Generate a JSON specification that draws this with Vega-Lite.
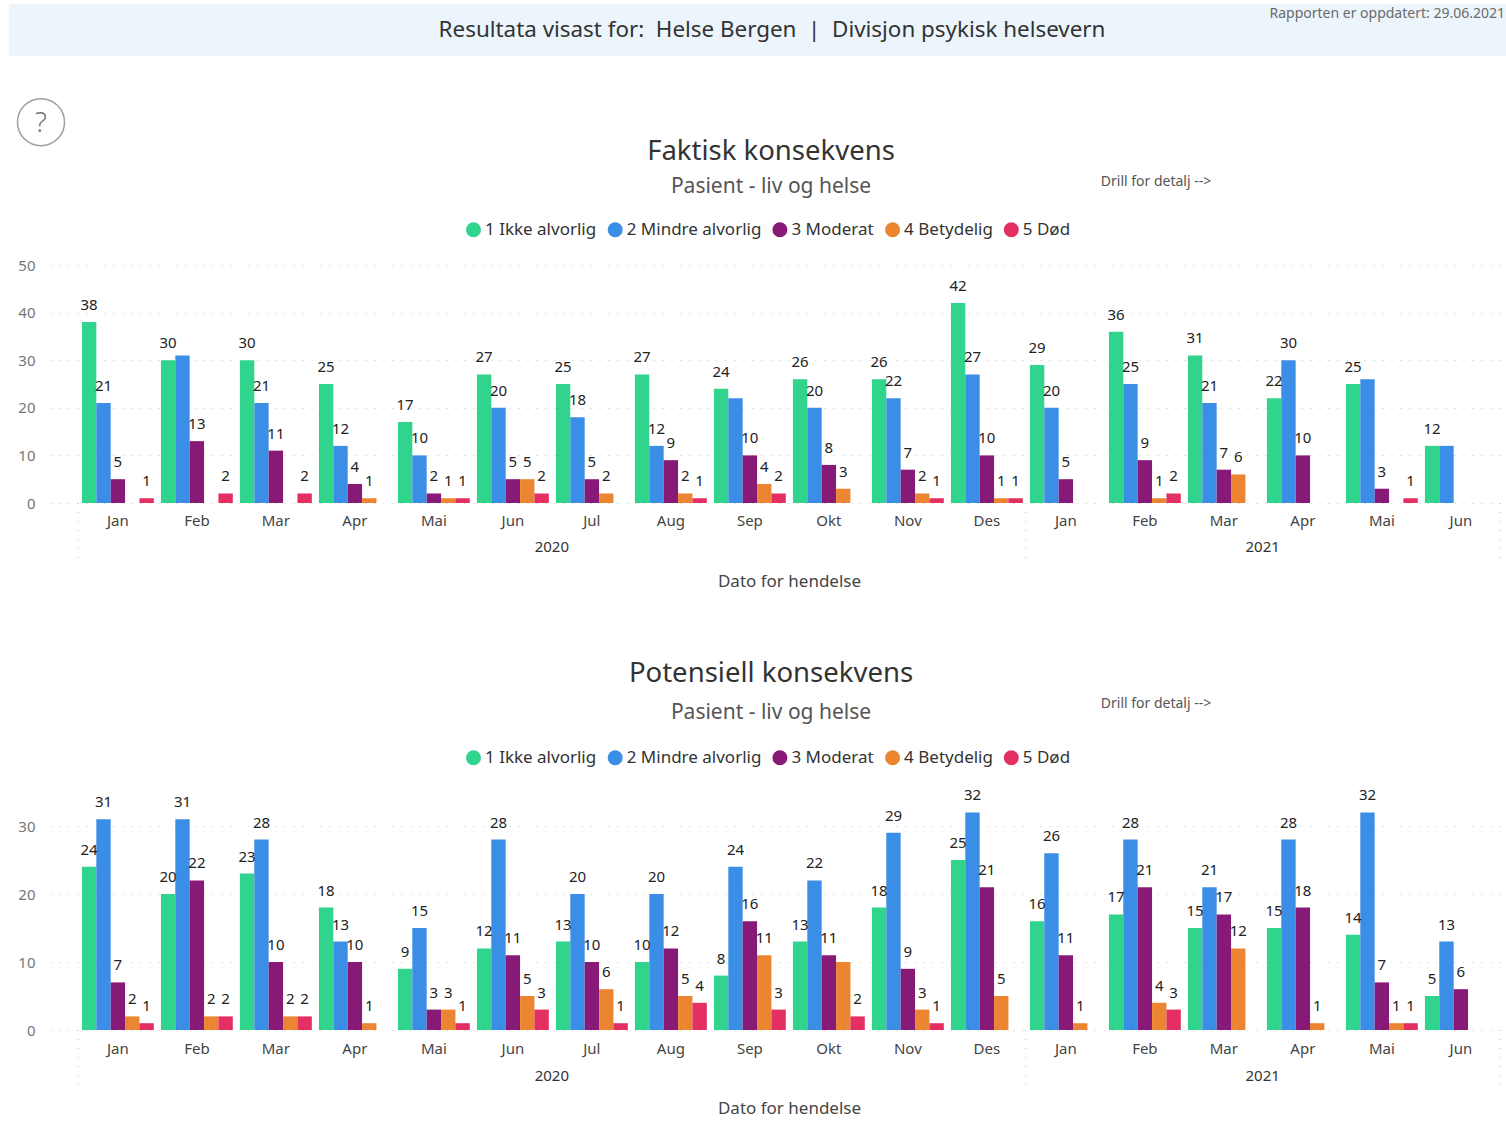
{"$schema":"https://vega.github.io/schema/vega-lite/v6.json","background":"white","padding":{"left":8,"top":4,"right":0,"bottom":10},"spacing":39,"align":"none","config":{"font":"Noto Sans","view":{"stroke":null},"text":{"font":"Noto Sans"}},"resolve":{"scale":{"color":"independent"},"legend":{"color":"independent"}},"vconcat":[
{"width":1456,"height":52,"data":{"values":[{"a":1}]},"layer":[
{"mark":{"type":"rect","color":"#ecf4fc"},"encoding":{"x":{"datum":-0.02816,"type":"quantitative","scale":{"domain":[0,1]},"axis":null},"x2":{"datum":1},"y":{"datum":0,"type":"quantitative","scale":{"domain":[0,1]},"axis":null},"y2":{"datum":1}}},
{"mark":{"type":"text","fontSize":22.4,"color":"#333333","align":"center","baseline":"middle"},"encoding":{"x":{"datum":0.4959,"type":"quantitative","scale":{"domain":[0,1]},"axis":null},"y":{"datum":0.5,"type":"quantitative","scale":{"domain":[0,1]},"axis":null},"text":{"value":"Resultata visast for:\u00a0\u00a0Helse Bergen\u00a0\u00a0|\u00a0\u00a0Divisjon psykisk helsevern"}}},
{"mark":{"type":"text","fontSize":14,"color":"#6b6b6b","align":"right","baseline":"middle"},"encoding":{"x":{"datum":0.9993,"type":"quantitative","scale":{"domain":[0,1]},"axis":null},"y":{"datum":0.81,"type":"quantitative","scale":{"domain":[0,1]},"axis":null},"text":{"value":"Rapporten er oppdatert: 29.06.2021"}}}
]},
{"spacing":71,"align":"none","resolve":{"scale":{"color":"independent"},"legend":{"color":"independent"}},"vconcat":[
{"width":1452,"height":238,"title":{"text":"Faktisk konsekvens","subtitle":"Pasient - liv og helse","fontSize":27.5,"fontWeight":"normal","color":"#333333","subtitleFontSize":21,"subtitleColor":"#555555","subtitlePadding":10,"anchor":"middle","dx":-5,"offset":-101},
"layer":[
{"data":{"values":[
{"p":"Jan 2020","level":"1 Ikke alvorlig","v":38,"l":38},{"p":"Jan 2020","level":"2 Mindre alvorlig","v":21,"l":21},{"p":"Jan 2020","level":"3 Moderat","v":5,"l":5},{"p":"Jan 2020","level":"5 Død","v":1,"l":1},
{"p":"Feb 2020","level":"1 Ikke alvorlig","v":30,"l":30},{"p":"Feb 2020","level":"2 Mindre alvorlig","v":31},{"p":"Feb 2020","level":"3 Moderat","v":13,"l":13},{"p":"Feb 2020","level":"5 Død","v":2,"l":2},
{"p":"Mar 2020","level":"1 Ikke alvorlig","v":30,"l":30},{"p":"Mar 2020","level":"2 Mindre alvorlig","v":21,"l":21},{"p":"Mar 2020","level":"3 Moderat","v":11,"l":11},{"p":"Mar 2020","level":"5 Død","v":2,"l":2},
{"p":"Apr 2020","level":"1 Ikke alvorlig","v":25,"l":25},{"p":"Apr 2020","level":"2 Mindre alvorlig","v":12,"l":12},{"p":"Apr 2020","level":"3 Moderat","v":4,"l":4},{"p":"Apr 2020","level":"4 Betydelig","v":1,"l":1},
{"p":"Mai 2020","level":"1 Ikke alvorlig","v":17,"l":17},{"p":"Mai 2020","level":"2 Mindre alvorlig","v":10,"l":10},{"p":"Mai 2020","level":"3 Moderat","v":2,"l":2},{"p":"Mai 2020","level":"4 Betydelig","v":1,"l":1},{"p":"Mai 2020","level":"5 Død","v":1,"l":1},
{"p":"Jun 2020","level":"1 Ikke alvorlig","v":27,"l":27},{"p":"Jun 2020","level":"2 Mindre alvorlig","v":20,"l":20},{"p":"Jun 2020","level":"3 Moderat","v":5,"l":5},{"p":"Jun 2020","level":"4 Betydelig","v":5,"l":5},{"p":"Jun 2020","level":"5 Død","v":2,"l":2},
{"p":"Jul 2020","level":"1 Ikke alvorlig","v":25,"l":25},{"p":"Jul 2020","level":"2 Mindre alvorlig","v":18,"l":18},{"p":"Jul 2020","level":"3 Moderat","v":5,"l":5},{"p":"Jul 2020","level":"4 Betydelig","v":2,"l":2},
{"p":"Aug 2020","level":"1 Ikke alvorlig","v":27,"l":27},{"p":"Aug 2020","level":"2 Mindre alvorlig","v":12,"l":12},{"p":"Aug 2020","level":"3 Moderat","v":9,"l":9},{"p":"Aug 2020","level":"4 Betydelig","v":2,"l":2},{"p":"Aug 2020","level":"5 Død","v":1,"l":1},
{"p":"Sep 2020","level":"1 Ikke alvorlig","v":24,"l":24},{"p":"Sep 2020","level":"2 Mindre alvorlig","v":22},{"p":"Sep 2020","level":"3 Moderat","v":10,"l":10},{"p":"Sep 2020","level":"4 Betydelig","v":4,"l":4},{"p":"Sep 2020","level":"5 Død","v":2,"l":2},
{"p":"Okt 2020","level":"1 Ikke alvorlig","v":26,"l":26},{"p":"Okt 2020","level":"2 Mindre alvorlig","v":20,"l":20},{"p":"Okt 2020","level":"3 Moderat","v":8,"l":8},{"p":"Okt 2020","level":"4 Betydelig","v":3,"l":3},
{"p":"Nov 2020","level":"1 Ikke alvorlig","v":26,"l":26},{"p":"Nov 2020","level":"2 Mindre alvorlig","v":22,"l":22},{"p":"Nov 2020","level":"3 Moderat","v":7,"l":7},{"p":"Nov 2020","level":"4 Betydelig","v":2,"l":2},{"p":"Nov 2020","level":"5 Død","v":1,"l":1},
{"p":"Des 2020","level":"1 Ikke alvorlig","v":42,"l":42},{"p":"Des 2020","level":"2 Mindre alvorlig","v":27,"l":27},{"p":"Des 2020","level":"3 Moderat","v":10,"l":10},{"p":"Des 2020","level":"4 Betydelig","v":1,"l":1},{"p":"Des 2020","level":"5 Død","v":1,"l":1},
{"p":"Jan 2021","level":"1 Ikke alvorlig","v":29,"l":29},{"p":"Jan 2021","level":"2 Mindre alvorlig","v":20,"l":20},{"p":"Jan 2021","level":"3 Moderat","v":5,"l":5},
{"p":"Feb 2021","level":"1 Ikke alvorlig","v":36,"l":36},{"p":"Feb 2021","level":"2 Mindre alvorlig","v":25,"l":25},{"p":"Feb 2021","level":"3 Moderat","v":9,"l":9},{"p":"Feb 2021","level":"4 Betydelig","v":1,"l":1},{"p":"Feb 2021","level":"5 Død","v":2,"l":2},
{"p":"Mar 2021","level":"1 Ikke alvorlig","v":31,"l":31},{"p":"Mar 2021","level":"2 Mindre alvorlig","v":21,"l":21},{"p":"Mar 2021","level":"3 Moderat","v":7,"l":7},{"p":"Mar 2021","level":"4 Betydelig","v":6,"l":6},
{"p":"Apr 2021","level":"1 Ikke alvorlig","v":22,"l":22},{"p":"Apr 2021","level":"2 Mindre alvorlig","v":30,"l":30},{"p":"Apr 2021","level":"3 Moderat","v":10,"l":10},
{"p":"Mai 2021","level":"1 Ikke alvorlig","v":25,"l":25},{"p":"Mai 2021","level":"2 Mindre alvorlig","v":26},{"p":"Mai 2021","level":"3 Moderat","v":3,"l":3},{"p":"Mai 2021","level":"5 Død","v":1,"l":1},
{"p":"Jun 2021","level":"1 Ikke alvorlig","v":12,"l":12},{"p":"Jun 2021","level":"2 Mindre alvorlig","v":12}
]},"layer":[
{"mark":{"type":"bar"},"encoding":{
"x":{"field":"p","type":"nominal","scale":{"domain":["Jan 2020","Feb 2020","Mar 2020","Apr 2020","Mai 2020","Jun 2020","Jul 2020","Aug 2020","Sep 2020","Okt 2020","Nov 2020","Des 2020","Jan 2021","Feb 2021","Mar 2021","Apr 2021","Mai 2021","Jun 2021"],"paddingInner":0.09,"paddingOuter":0.235,"align":0.86},"axis":{"title":"Dato for hendelse","titleFontSize":17,"titleFontWeight":"normal","titleColor":"#444444","titleX":739,"titleY":70,"labelExpr":"split(datum.label,' ')[0]","labelAngle":0,"labelFontSize":15,"labelColor":"#444444","labelPadding":10,"ticks":false,"domain":false}},
"xOffset":{"field":"level","type":"nominal","scale":{"domain":["1 Ikke alvorlig","2 Mindre alvorlig","3 Moderat","4 Betydelig","5 Død"],"paddingInner":0,"paddingOuter":0}},
"y":{"field":"v","type":"quantitative","scale":{"domain":[0,50],"nice":false},"axis":{"title":null,"values":[0,10,20,30,40,50],"labelFontSize":15,"labelColor":"#777777","labelPadding":15,"ticks":false,"domain":false,"grid":true,"gridColor":"#c8c8c8","gridDash":[1,8],"minExtent":41}},
"color":{"field":"level","type":"nominal","scale":{"domain":["1 Ikke alvorlig","2 Mindre alvorlig","3 Moderat","4 Betydelig","5 Død"],"range":["#31D48C","#3B8EE6","#871A76","#EC8531","#E32F61"]},"legend":{"title":null,"orient":"none","legendX":415,"legendY":-44,"direction":"horizontal","symbolType":"circle","symbolSize":225,"symbolStrokeWidth":0,"labelFontSize":17,"labelColor":"#333333","labelOffset":3,"columnPadding":9.7}}}},
{"transform":[{"filter":"isValid(datum.l)"}],"mark":{"type":"text","fontSize":15,"color":"#222222","align":"center","baseline":"alphabetic","dy":-12},"encoding":{
"x":{"field":"p","type":"nominal"},
"xOffset":{"field":"level","type":"nominal"},
"y":{"field":"v","type":"quantitative"},
"text":{"field":"l","type":"quantitative"}}}
],"resolve":{"scale":{"x":"shared","xOffset":"shared"}}},
{"data":{"values":[{"m":0},{"m":12},{"m":18}]},"mark":{"type":"rule","color":"#bdbdbd","strokeDash":[1,8]},"encoding":{"x":{"field":"m","type":"quantitative","scale":{"domain":[-0.354,18.03],"nice":false,"zero":false},"axis":null},"y":{"datum":0,"type":"quantitative"},"y2":{"datum":-12.4}}},
{"data":{"values":[{"year":"2020","m":6},{"year":"2021","m":15}]},"mark":{"type":"text","fontSize":15,"color":"#333333","baseline":"middle"},"encoding":{"x":{"field":"m","type":"quantitative","scale":{"domain":[-0.354,18.03],"nice":false,"zero":false},"axis":null},"y":{"datum":-9.2,"type":"quantitative"},"text":{"field":"year"}}},
{"data":{"values":[{"a":1}]},"mark":{"type":"point","shape":"circle","size":2209,"filled":false,"stroke":"#777777","strokeWidth":1.5},"encoding":{"x":{"datum":-0.468,"type":"quantitative","scale":{"domain":[-0.354,18.03],"nice":false,"zero":false},"axis":null},"y":{"datum":80,"type":"quantitative"}}},
{"data":{"values":[{"a":1}]},"mark":{"type":"text","fontSize":28,"color":"#777777","baseline":"middle","fontWeight":300,"dy":2},"encoding":{"x":{"datum":-0.468,"type":"quantitative","scale":{"domain":[-0.354,18.03],"nice":false,"zero":false},"axis":null},"y":{"datum":80,"type":"quantitative"},"text":{"value":"?"}}},
{"data":{"values":[{"a":1}]},"mark":{"type":"text","fontSize":14,"color":"#555555","baseline":"middle","align":"left"},"encoding":{"x":{"datum":12.95,"type":"quantitative","scale":{"domain":[-0.354,18.03],"nice":false,"zero":false},"axis":null},"y":{"datum":67.4,"type":"quantitative"},"text":{"value":"Drill for detalj -->"}}}
],"resolve":{"scale":{"x":"independent"}}},
{"width":1452,"height":238,"title":{"text":"Potensiell konsekvens","subtitle":"Pasient - liv og helse","fontSize":27.5,"fontWeight":"normal","color":"#333333","subtitleFontSize":21,"subtitleColor":"#555555","subtitlePadding":14,"anchor":"middle","dx":-5,"offset":-26},
"layer":[
{"data":{"values":[
{"p":"Jan 2020","level":"1 Ikke alvorlig","v":24,"l":24},{"p":"Jan 2020","level":"2 Mindre alvorlig","v":31,"l":31},{"p":"Jan 2020","level":"3 Moderat","v":7,"l":7},{"p":"Jan 2020","level":"4 Betydelig","v":2,"l":2},{"p":"Jan 2020","level":"5 Død","v":1,"l":1},
{"p":"Feb 2020","level":"1 Ikke alvorlig","v":20,"l":20},{"p":"Feb 2020","level":"2 Mindre alvorlig","v":31,"l":31},{"p":"Feb 2020","level":"3 Moderat","v":22,"l":22},{"p":"Feb 2020","level":"4 Betydelig","v":2,"l":2},{"p":"Feb 2020","level":"5 Død","v":2,"l":2},
{"p":"Mar 2020","level":"1 Ikke alvorlig","v":23,"l":23},{"p":"Mar 2020","level":"2 Mindre alvorlig","v":28,"l":28},{"p":"Mar 2020","level":"3 Moderat","v":10,"l":10},{"p":"Mar 2020","level":"4 Betydelig","v":2,"l":2},{"p":"Mar 2020","level":"5 Død","v":2,"l":2},
{"p":"Apr 2020","level":"1 Ikke alvorlig","v":18,"l":18},{"p":"Apr 2020","level":"2 Mindre alvorlig","v":13,"l":13},{"p":"Apr 2020","level":"3 Moderat","v":10,"l":10},{"p":"Apr 2020","level":"4 Betydelig","v":1,"l":1},
{"p":"Mai 2020","level":"1 Ikke alvorlig","v":9,"l":9},{"p":"Mai 2020","level":"2 Mindre alvorlig","v":15,"l":15},{"p":"Mai 2020","level":"3 Moderat","v":3,"l":3},{"p":"Mai 2020","level":"4 Betydelig","v":3,"l":3},{"p":"Mai 2020","level":"5 Død","v":1,"l":1},
{"p":"Jun 2020","level":"1 Ikke alvorlig","v":12,"l":12},{"p":"Jun 2020","level":"2 Mindre alvorlig","v":28,"l":28},{"p":"Jun 2020","level":"3 Moderat","v":11,"l":11},{"p":"Jun 2020","level":"4 Betydelig","v":5,"l":5},{"p":"Jun 2020","level":"5 Død","v":3,"l":3},
{"p":"Jul 2020","level":"1 Ikke alvorlig","v":13,"l":13},{"p":"Jul 2020","level":"2 Mindre alvorlig","v":20,"l":20},{"p":"Jul 2020","level":"3 Moderat","v":10,"l":10},{"p":"Jul 2020","level":"4 Betydelig","v":6,"l":6},{"p":"Jul 2020","level":"5 Død","v":1,"l":1},
{"p":"Aug 2020","level":"1 Ikke alvorlig","v":10,"l":10},{"p":"Aug 2020","level":"2 Mindre alvorlig","v":20,"l":20},{"p":"Aug 2020","level":"3 Moderat","v":12,"l":12},{"p":"Aug 2020","level":"4 Betydelig","v":5,"l":5},{"p":"Aug 2020","level":"5 Død","v":4,"l":4},
{"p":"Sep 2020","level":"1 Ikke alvorlig","v":8,"l":8},{"p":"Sep 2020","level":"2 Mindre alvorlig","v":24,"l":24},{"p":"Sep 2020","level":"3 Moderat","v":16,"l":16},{"p":"Sep 2020","level":"4 Betydelig","v":11,"l":11},{"p":"Sep 2020","level":"5 Død","v":3,"l":3},
{"p":"Okt 2020","level":"1 Ikke alvorlig","v":13,"l":13},{"p":"Okt 2020","level":"2 Mindre alvorlig","v":22,"l":22},{"p":"Okt 2020","level":"3 Moderat","v":11,"l":11},{"p":"Okt 2020","level":"4 Betydelig","v":10},{"p":"Okt 2020","level":"5 Død","v":2,"l":2},
{"p":"Nov 2020","level":"1 Ikke alvorlig","v":18,"l":18},{"p":"Nov 2020","level":"2 Mindre alvorlig","v":29,"l":29},{"p":"Nov 2020","level":"3 Moderat","v":9,"l":9},{"p":"Nov 2020","level":"4 Betydelig","v":3,"l":3},{"p":"Nov 2020","level":"5 Død","v":1,"l":1},
{"p":"Des 2020","level":"1 Ikke alvorlig","v":25,"l":25},{"p":"Des 2020","level":"2 Mindre alvorlig","v":32,"l":32},{"p":"Des 2020","level":"3 Moderat","v":21,"l":21},{"p":"Des 2020","level":"4 Betydelig","v":5,"l":5},
{"p":"Jan 2021","level":"1 Ikke alvorlig","v":16,"l":16},{"p":"Jan 2021","level":"2 Mindre alvorlig","v":26,"l":26},{"p":"Jan 2021","level":"3 Moderat","v":11,"l":11},{"p":"Jan 2021","level":"4 Betydelig","v":1,"l":1},
{"p":"Feb 2021","level":"1 Ikke alvorlig","v":17,"l":17},{"p":"Feb 2021","level":"2 Mindre alvorlig","v":28,"l":28},{"p":"Feb 2021","level":"3 Moderat","v":21,"l":21},{"p":"Feb 2021","level":"4 Betydelig","v":4,"l":4},{"p":"Feb 2021","level":"5 Død","v":3,"l":3},
{"p":"Mar 2021","level":"1 Ikke alvorlig","v":15,"l":15},{"p":"Mar 2021","level":"2 Mindre alvorlig","v":21,"l":21},{"p":"Mar 2021","level":"3 Moderat","v":17,"l":17},{"p":"Mar 2021","level":"4 Betydelig","v":12,"l":12},
{"p":"Apr 2021","level":"1 Ikke alvorlig","v":15,"l":15},{"p":"Apr 2021","level":"2 Mindre alvorlig","v":28,"l":28},{"p":"Apr 2021","level":"3 Moderat","v":18,"l":18},{"p":"Apr 2021","level":"4 Betydelig","v":1,"l":1},
{"p":"Mai 2021","level":"1 Ikke alvorlig","v":14,"l":14},{"p":"Mai 2021","level":"2 Mindre alvorlig","v":32,"l":32},{"p":"Mai 2021","level":"3 Moderat","v":7,"l":7},{"p":"Mai 2021","level":"4 Betydelig","v":1,"l":1},{"p":"Mai 2021","level":"5 Død","v":1,"l":1},
{"p":"Jun 2021","level":"1 Ikke alvorlig","v":5,"l":5},{"p":"Jun 2021","level":"2 Mindre alvorlig","v":13,"l":13},{"p":"Jun 2021","level":"3 Moderat","v":6,"l":6}
]},"layer":[
{"mark":{"type":"bar"},"encoding":{
"x":{"field":"p","type":"nominal","scale":{"domain":["Jan 2020","Feb 2020","Mar 2020","Apr 2020","Mai 2020","Jun 2020","Jul 2020","Aug 2020","Sep 2020","Okt 2020","Nov 2020","Des 2020","Jan 2021","Feb 2021","Mar 2021","Apr 2021","Mai 2021","Jun 2021"],"paddingInner":0.09,"paddingOuter":0.235,"align":0.86},"axis":{"title":"Dato for hendelse","titleFontSize":17,"titleFontWeight":"normal","titleColor":"#444444","titleX":739,"titleY":70,"labelExpr":"split(datum.label,' ')[0]","labelAngle":0,"labelFontSize":15,"labelColor":"#444444","labelPadding":11,"ticks":false,"domain":false}},
"xOffset":{"field":"level","type":"nominal","scale":{"domain":["1 Ikke alvorlig","2 Mindre alvorlig","3 Moderat","4 Betydelig","5 Død"],"paddingInner":0,"paddingOuter":0}},
"y":{"field":"v","type":"quantitative","scale":{"domain":[0,35],"nice":false},"axis":{"title":null,"values":[0,10,20,30],"labelFontSize":15,"labelColor":"#777777","labelPadding":15,"ticks":false,"domain":false,"grid":true,"gridColor":"#c8c8c8","gridDash":[1,8],"minExtent":41}},
"color":{"field":"level","type":"nominal","scale":{"domain":["1 Ikke alvorlig","2 Mindre alvorlig","3 Moderat","4 Betydelig","5 Død"],"range":["#31D48C","#3B8EE6","#871A76","#EC8531","#E32F61"]},"legend":{"title":null,"orient":"none","legendX":415,"legendY":-43,"direction":"horizontal","symbolType":"circle","symbolSize":225,"symbolStrokeWidth":0,"labelFontSize":17,"labelColor":"#333333","labelOffset":3,"columnPadding":9.7}}}},
{"transform":[{"filter":"isValid(datum.l)"}],"mark":{"type":"text","fontSize":15,"color":"#222222","align":"center","baseline":"alphabetic","dy":-12},"encoding":{
"x":{"field":"p","type":"nominal"},
"xOffset":{"field":"level","type":"nominal"},
"y":{"field":"v","type":"quantitative"},
"text":{"field":"l","type":"quantitative"}}}
],"resolve":{"scale":{"x":"shared","xOffset":"shared"}}},
{"data":{"values":[{"m":0},{"m":12},{"m":18}]},"mark":{"type":"rule","color":"#bdbdbd","strokeDash":[1,8]},"encoding":{"x":{"field":"m","type":"quantitative","scale":{"domain":[-0.354,18.03],"nice":false,"zero":false},"axis":null},"y":{"datum":0,"type":"quantitative"},"y2":{"datum":-8.7}}},
{"data":{"values":[{"year":"2020","m":6},{"year":"2021","m":15}]},"mark":{"type":"text","fontSize":15,"color":"#333333","baseline":"middle"},"encoding":{"x":{"field":"m","type":"quantitative","scale":{"domain":[-0.354,18.03],"nice":false,"zero":false},"axis":null},"y":{"datum":-6.75,"type":"quantitative"},"text":{"field":"year"}}},
{"data":{"values":[{"a":1}]},"mark":{"type":"text","fontSize":14,"color":"#555555","baseline":"middle","align":"left"},"encoding":{"x":{"datum":12.95,"type":"quantitative","scale":{"domain":[-0.354,18.03],"nice":false,"zero":false},"axis":null},"y":{"datum":48,"type":"quantitative"},"text":{"value":"Drill for detalj -->"}}}
],"resolve":{"scale":{"x":"independent"}}}
]}
]}
